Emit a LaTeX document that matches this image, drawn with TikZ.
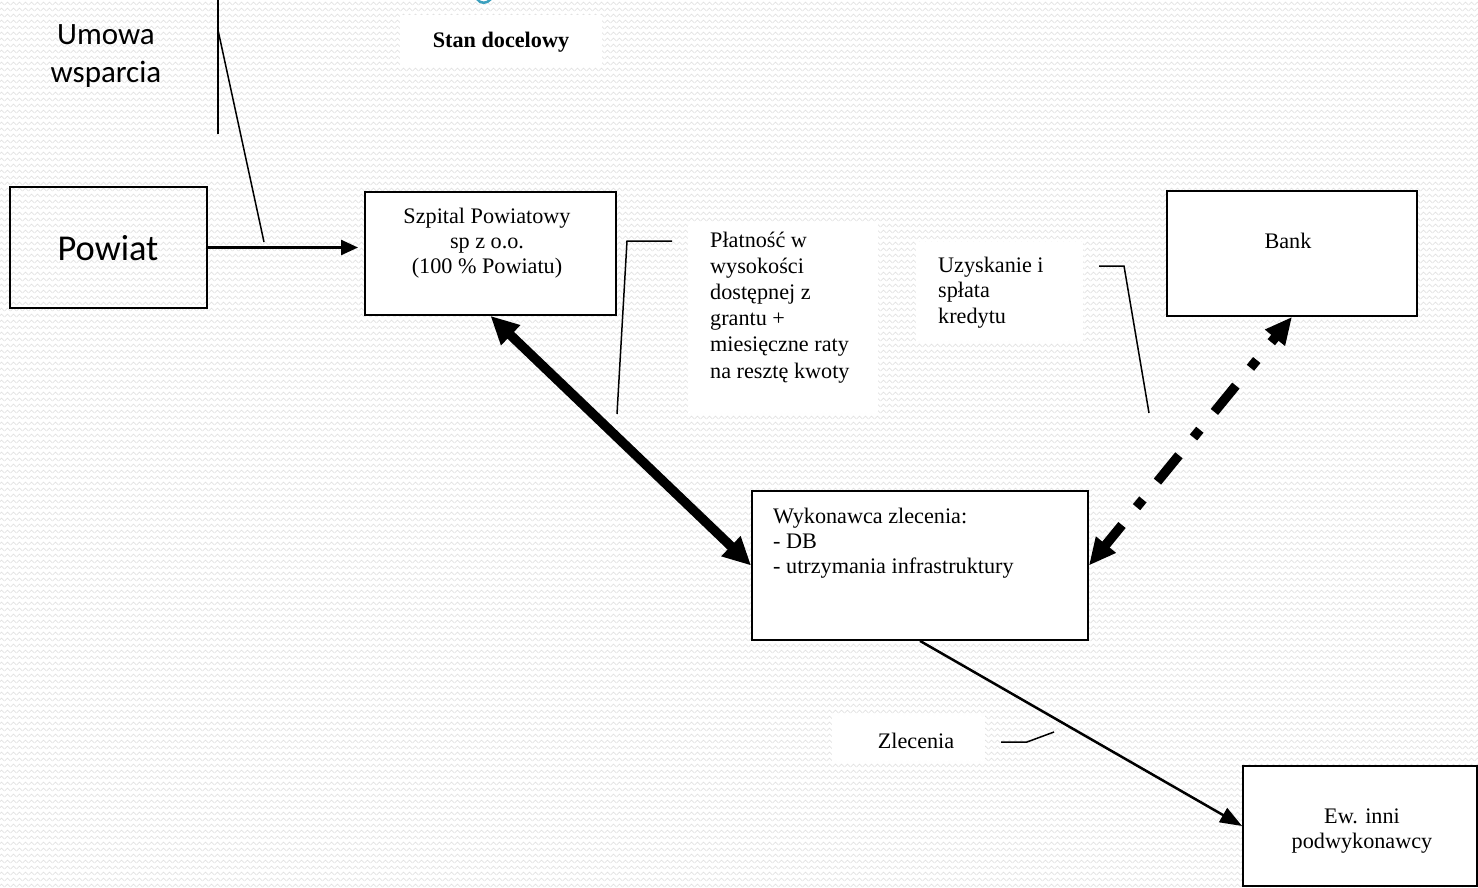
\documentclass[tikz,border=0pt]{standalone}
\usepackage{fontspec}
\setmainfont{Liberation Serif}
\newfontfamily\calib{Carlito}
\usetikzlibrary{arrows.meta,patterns,calc}
\definecolor{bgline}{RGB}{226,226,226}
\definecolor{tealfrag}{RGB}{60,160,190}
\pgfdeclarepatternformonly{zigzagbg}{\pgfpoint{0pt}{0pt}}{\pgfpoint{6pt}{6pt}}{\pgfpoint{6pt}{6pt}}{%
  \pgfsetlinewidth{0.8pt}%
  \pgfpathmoveto{\pgfpoint{-0.5pt}{1pt}}%
  \pgfpathlineto{\pgfpoint{3pt}{4.5pt}}%
  \pgfpathlineto{\pgfpoint{6.5pt}{1pt}}%
  \pgfusepath{stroke}%
}
\begin{document}
\begin{tikzpicture}[x=1pt,y=-1pt,
  box/.style={draw, line width=1.8pt, rectangle, inner sep=0pt},
  wbox/.style={box, fill=white},
  note/.style={fill=white, rectangle, inner sep=0pt},
  tnr/.style={inner sep=0pt, font=\fontsize{22.2}{25}\selectfont},
  lead/.style={line width=1.5pt},
  thin arrow/.style={line width=2.5pt},
  fat arrow/.style={line width=9.5pt},
]
\useasboundingbox (0,0) rectangle (1478,888);
\fill[pattern=zigzagbg, pattern color=bgline] (0,0) rectangle (1478,888);

% fragment of cut-off title
\draw[tealfrag, line width=2.5pt] (477,-1) .. controls (480,4) and (487,4) .. (491,-1);

% white label backgrounds
\node[note, minimum width=202pt, minimum height=52pt] (stanbg) at (501,41) {};
\node[note, minimum width=190pt, minimum height=193pt] (platbg) at (783,318.5) {};
\node[note, minimum width=167pt, minimum height=101pt] (uzyskbg) at (999.5,292.5) {};
\node[note, minimum width=153pt, minimum height=48pt] (zlecbg) at (908.5,739) {};

% boxes
\node[box, minimum width=197pt, minimum height=121pt] (powiat) at (108.5,247.5) {};
\node[wbox, minimum width=251pt, minimum height=123pt] (szpital) at (490.5,253.5) {};
\node[wbox, minimum width=250pt, minimum height=125pt] (bank) at (1292,253.5) {};
\node[wbox, minimum width=336pt, minimum height=149pt] (wyk) at (920,565.5) {};
\node[wbox, minimum width=234pt, minimum height=120pt] (ew) at (1360,826) {};

% texts (anchor=base of a multi-line node is the last line's baseline)
\node[anchor=base, inner sep=0pt, align=center, font=\calib\fontsize{31}{38}\selectfont] (umowa) at (106,83) {Umowa\\wsparcia};
\node[anchor=base, inner sep=0pt, font=\calib\fontsize{36.4}{40}\selectfont] (powiattxt) at (108,260) {Powiat};
\node[tnr, anchor=base, font=\bfseries\fontsize{22.2}{25}\selectfont] (stan) at (501,48) {Stan docelowy};
\node[tnr, anchor=base, align=center] (szpitaltxt) at (487,273) {Szpital Powiatowy\\sp z o.o.\\(100 \% Powiatu)};
\node[tnr, anchor=base west, align=left, font=\fontsize{22.2}{26.2}\selectfont] (plat) at (710,378) {Płatność w\\wysokości\\dostępnej z\\grantu +\\miesięczne raty\\na resztę kwoty};
\node[tnr, anchor=base west, align=left, font=\fontsize{22.2}{25.8}\selectfont] (uzysk) at (938,323.6) {Uzyskanie i\\spłata\\kredytu};
\node[tnr, anchor=base] (banktxt) at (1288,248) {Bank};
\node[tnr, anchor=base west, align=left] (wyktxt) at (773,573) {Wykonawca zlecenia:\\- DB\\- utrzymania infrastruktury};
\node[tnr, anchor=base] (zlec) at (916,748) {Zlecenia};
\node[tnr, anchor=base, align=center] (ewtxt) at (1362,848) {Ew. inni\\podwykonawcy};

% callout leaders
\coordinate (umtop) at (218,0);
\coordinate (umbot) at (218,134);
\coordinate (umknee) at (218,30);
\coordinate (umpt) at (264,242);
\draw[lead] (umtop) -- (umbot);
\draw[lead] (umknee) -- (umpt);

\coordinate (pl1) at (672,241);
\coordinate (pl2) at (627,241);
\coordinate (pl3) at (617,414);
\draw[lead] (pl1) -- (pl2) -- (pl3);

\coordinate (uz1) at (1099,266);
\coordinate (uz2) at (1124,266);
\coordinate (uz3) at (1149,413);
\draw[lead] (uz1) -- (uz2) -- (uz3);

\coordinate (zl1) at (1001,742);
\coordinate (zl2) at (1027,742);
\coordinate (zl3) at (1054,732);
\draw[lead] (zl1) -- (zl2) -- (zl3);

% connectors
\coordinate (pin) at (358,247.5);
\draw[thin arrow, -{Triangle[length=17pt,width=15pt]}] (powiat.east) -- (pin);
\draw[fat arrow, {Triangle[length=28pt,width=26pt]}-{Triangle[length=28pt,width=26pt]}] (szpital.south) -- (wyk.west);
\draw[fat arrow, dash pattern=on 34pt off 23pt on 10pt off 23pt, dash phase=7pt,
  {Triangle[length=27pt,width=24pt]}-{Triangle[length=27pt,width=24pt]}] (wyk.east) -- (bank.south);
\draw[thin arrow, -{Triangle[length=22pt,width=16pt]}] (wyk.south) -- (ew.west);
\end{tikzpicture}
\end{document}
